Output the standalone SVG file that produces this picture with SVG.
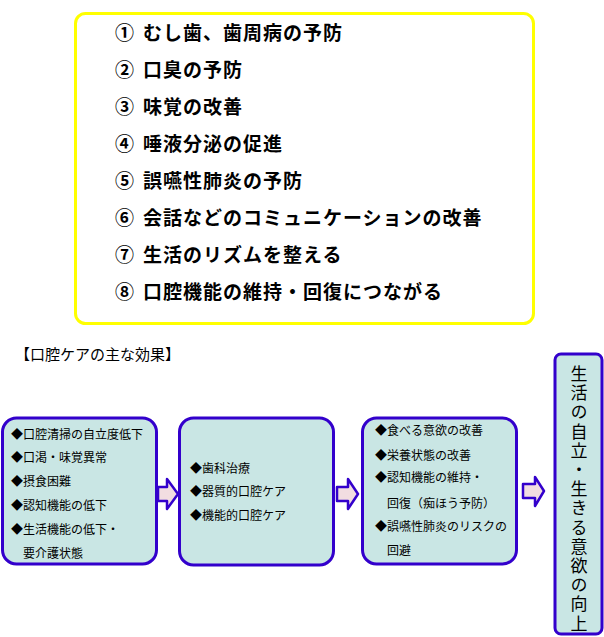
<svg xmlns="http://www.w3.org/2000/svg" width="604" height="637" viewBox="0 0 604 637">
<style>
.t{font-family:"Noto Sans CJK JP","Noto Sans",sans-serif;fill:#000}
.list{font-size:19px;font-weight:bold;letter-spacing:1px}
.box{fill:#c9e6e4;stroke:#3300cc;stroke-width:3}
.bt{font-size:12px}
.arr{fill:#f2dde1;stroke:#3300cc;stroke-width:2.5;stroke-linejoin:round}
</style>
<rect width="604" height="637" fill="#fff"/>
<g id="effects-list">
<rect x="75.5" y="13.5" width="458" height="310" rx="10" fill="#fff" stroke="#ffff00" stroke-width="3"/>
<g class="t list">
<text x="115" y="40">①</text><text x="143" y="40">むし歯、歯周病の予防</text>
<text x="115" y="77">②</text><text x="143" y="77">口臭の予防</text>
<text x="115" y="114">③</text><text x="143" y="114">味覚の改善</text>
<text x="115" y="151">④</text><text x="143" y="151">唾液分泌の促進</text>
<text x="115" y="188">⑤</text><text x="143" y="188">誤嚥性肺炎の予防</text>
<text x="115" y="225">⑥</text><text x="143" y="225">会話などのコミュニケーションの改善</text>
<text x="115" y="262">⑦</text><text x="143" y="262">生活のリズムを整える</text>
<text x="115" y="299">⑧</text><text x="143" y="299">口腔機能の維持・回復につながる</text>
</g>
</g>
<text id="title" class="t" x="15" y="360" font-size="15">【口腔ケアの主な効果】</text>
<g id="node-problems">
<rect class="box" x="2.5" y="418" width="154" height="146" rx="14"/>
<g class="t bt">
<text x="11" y="438.5">◆口腔清掃の自立度低下</text>
<text x="11" y="462">◆口渇・味覚異常</text>
<text x="11" y="486">◆摂食困難</text>
<text x="11" y="509.5">◆認知機能の低下</text>
<text x="11" y="534">◆生活機能の低下・</text>
<text x="23" y="558">要介護状態</text>
</g>
</g>
<g id="node-care">
<rect class="box" x="179.5" y="418" width="154" height="147" rx="14"/>
<g class="t bt">
<text x="190" y="473">◆歯科治療</text>
<text x="190" y="495.5">◆器質的口腔ケア</text>
<text x="190" y="519.5">◆機能的口腔ケア</text>
</g>
</g>
<g id="node-improve">
<rect class="box" x="362.5" y="418" width="154" height="146" rx="14"/>
<g class="t bt">
<text x="375" y="435">◆食べる意欲の改善</text>
<text x="375" y="459.5">◆栄養状態の改善</text>
<text x="375" y="482">◆認知機能の維持・</text>
<text x="387" y="508">回復（痴ほう予防）</text>
<text x="375" y="531">◆誤嚥性肺炎のリスクの</text>
<text x="387" y="555">回避</text>
</g>
</g>
<g id="node-goal">
<rect class="box" x="555" y="354" width="47" height="280" rx="6"/>
<text class="t" font-size="17" x="579" y="365" writing-mode="vertical-rl" letter-spacing="2.2">生活の自立・生きる意欲の向上</text>
</g>
<g id="connectors">
<path class="arr" d="M158,487 L167,487 L167,479 L178,494 L167,509 L167,501 L158,501 Z"/>
<path class="arr" d="M337,487 L348,487 L348,479 L358,494 L348,509 L348,501 L337,501 Z"/>
<path class="arr" d="M523,484 L535,484 L535,477 L544,491 L535,506 L535,498 L523,498 Z"/>
</g>
</svg>
